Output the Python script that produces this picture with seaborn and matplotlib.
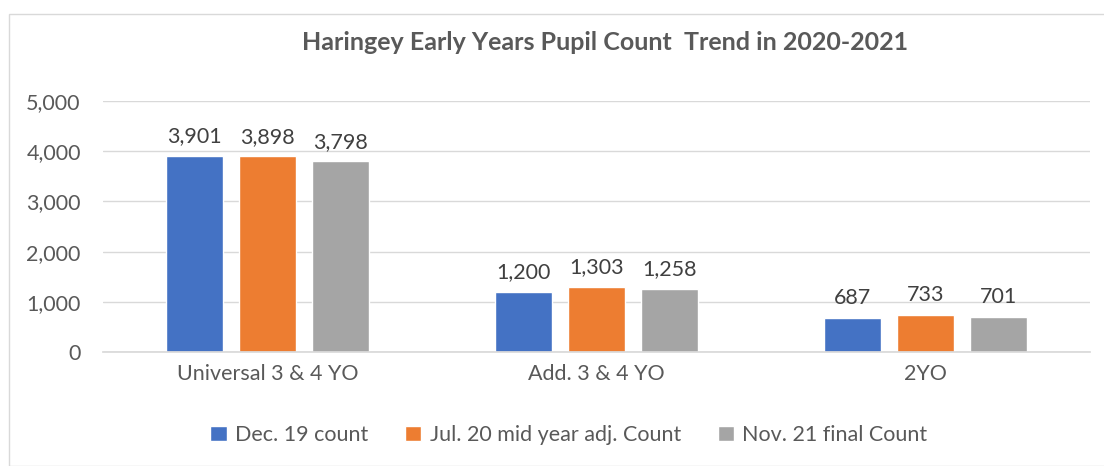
import matplotlib.pyplot as plt
import matplotlib.ticker as mticker
from matplotlib.patches import Rectangle
import seaborn as sns
import pandas as pd

# Data
categories = ['Universal 3 & 4 YO', 'Add. 3 & 4 YO', '2YO']
series = ['Dec. 19 count', 'Jul. 20 mid year adj. Count', 'Nov. 21 final Count']
dec19 = [3901, 1200, 687]
jul20 = [3898, 1303, 733]
nov21 = [3798, 1258, 701]
colors = ['#4472C4', '#ED7D31', '#A5A5A5']

data = pd.DataFrame({
    'Category': categories * 3,
    'Series': [series[0]] * 3 + [series[1]] * 3 + [series[2]] * 3,
    'Count': dec19 + jul20 + nov21,
})

sns.set_theme(style='white')
plt.rcParams['font.family'] = ['Lato', 'DejaVu Sans']
text_color = '#595959'
fs = 15.5

fig = plt.figure(figsize=(11.04, 4.66), dpi=100)
ax = fig.add_axes([103 / 1104, 1 - 352 / 466, 987 / 1104, 251 / 466])

sns.barplot(data=data, x='Category', y='Count', hue='Series', hue_order=series,
            palette=colors, saturation=1, width=0.664, gap=0.22, ax=ax, legend=True)

ax.set_ylim(0, 5000)
ax.set_xlim(-0.5, 2.5)
ax.yaxis.set_major_locator(mticker.MultipleLocator(1000))
ax.yaxis.set_major_formatter(mticker.FuncFormatter(lambda v, p: f'{int(v):,}'))
ax.grid(axis='y', color='#d9d9d9', linewidth=1)
ax.set_axisbelow(True)
for s in ['top', 'right', 'left']:
    ax.spines[s].set_visible(False)
ax.spines['bottom'].set_color('#d9d9d9')
ax.set_xlabel('')
ax.set_ylabel('')
ax.tick_params(axis='both', length=0, labelsize=fs, labelcolor=text_color)
ax.tick_params(axis='y', pad=16)
ax.tick_params(axis='x', pad=9)

for cont in ax.containers:
    ax.bar_label(cont, labels=[f'{int(v):,}' for v in cont.datavalues],
                 padding=7, fontsize=fs, color='#404040')

fig.text(605 / 1104, 1 - 43 / 466, 'Haringey Early Years Pupil Count  Trend in 2020-2021',
         ha='center', va='center', fontsize=18, fontweight='bold', color=text_color)

leg = ax.legend(loc='center', bbox_to_anchor=(569 / 1104, 1 - 435 / 466),
                bbox_transform=fig.transFigure, ncol=3, frameon=False,
                fontsize=fs, handlelength=0.75, handleheight=0.75,
                handletextpad=0.4, columnspacing=1.7)
for t in leg.get_texts():
    t.set_color(text_color)

# light chart border
fig.patches.append(Rectangle((9 / 1104, 0), 1.2, 1 - 14 / 466, transform=fig.transFigure,
                             fill=False, edgecolor='#d9d9d9', linewidth=1))

fig.savefig('out.png', dpi=100)
